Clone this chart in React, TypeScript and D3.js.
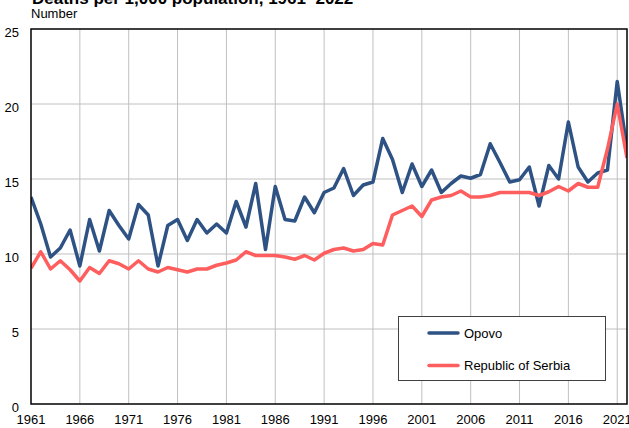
import React from 'react';
import * as d3 from 'd3';

const years: number[] = d3.range(1961, 2023);

// deaths per 1,000 population
const opovo: number[] = [
  13.8, 12.0, 9.8, 10.4, 11.6, 9.2, 12.3, 10.2, 12.9, 11.9,
  11.0, 13.3, 12.6, 9.2, 11.9, 12.3, 10.9, 12.3, 11.4, 12.0,
  11.4, 13.5, 11.8, 14.7, 10.3, 14.5, 12.3, 12.2, 13.8, 12.75,
  14.1, 14.4, 15.7, 13.9, 14.6, 14.8, 17.7, 16.3, 14.1, 16.0,
  14.5, 15.6, 14.1, 14.7, 15.2, 15.05, 15.3, 17.35, 16.1, 14.8,
  14.95, 15.8, 13.2, 15.9, 15.0, 18.8, 15.8, 14.8, 15.4, 15.6,
  21.5, 17.0,
];

const serbia: number[] = [
  9.05, 10.15, 9.0, 9.55, 8.95, 8.2, 9.1, 8.7, 9.55, 9.35,
  9.0, 9.55, 9.0, 8.8, 9.1, 8.95, 8.8, 9.0, 9.0, 9.25,
  9.4, 9.6, 10.15, 9.9, 9.9, 9.9, 9.8, 9.65, 9.9, 9.6,
  10.05, 10.3, 10.4, 10.2, 10.3, 10.7, 10.6, 12.6, 12.9, 13.2,
  12.5, 13.6, 13.8, 13.9, 14.2, 13.8, 13.8, 13.9, 14.1, 14.1,
  14.1, 14.1, 13.9, 14.15, 14.5, 14.2, 14.7, 14.45, 14.45, 17.0,
  20.0, 16.4,
];

const xTicks: number[] = [1961, 1966, 1971, 1976, 1981, 1986, 1991, 1996, 2001, 2006, 2011, 2016, 2021];
const yTicks: number[] = [0, 5, 10, 15, 20, 25];

const series = [
  { name: 'Opovo', values: opovo, color: '#2e5283' },
  { name: 'Republic of Serbia', values: serbia, color: '#ff5e5e' },
];

const font = '"Liberation Sans", Arial, sans-serif';

export default function App() {
  const W = 629;
  const H = 428;
  const left = 31;
  const right = 627;
  const top = 29;
  const bottom = 404;

  const x = d3.scaleLinear().domain([1961, 2022]).range([left, right]);
  const y = d3.scaleLinear().domain([0, 25]).range([bottom, top]);

  const line = d3
    .line<number>()
    .x((_, i) => x(years[i]))
    .y((d) => y(d));

  return (
    <svg
      width={W}
      height={H}
      style={{ position: 'absolute', left: 0, top: 0, background: '#fff' }}
      fontFamily={font}
    >
      <defs>
        <clipPath id="plot-clip">
          <rect x={left} y={0} width={right - left} height={bottom} />
        </clipPath>
      </defs>

      {/* title, cut off at the top like the source */}
      <text x={32} y={4} fontSize={17} fontWeight="bold" fill="#000">
        Deaths per 1,000 population, 1961–2022
      </text>
      <text x={31} y={18} fontSize={13} fill="#000">
        Number
      </text>

      {/* grid */}
      {yTicks.filter((t) => t > 0 && t < 25).map((t) => (
        <line key={'gy' + t} x1={left} x2={right} y1={y(t)} y2={y(t)} stroke="#c0c0c0" strokeWidth={1} />
      ))}
      {xTicks.filter((t) => t > 1961).map((t) => (
        <line key={'gx' + t} x1={x(t)} x2={x(t)} y1={top} y2={bottom} stroke="#c0c0c0" strokeWidth={1} />
      ))}

      {/* series */}
      <g clipPath="url(#plot-clip)">
        {series.map((s) => (
          <path
            key={s.name}
            d={line(s.values) || ''}
            fill="none"
            stroke={s.color}
            strokeWidth={3.5}
            strokeLinejoin="round"
          />
        ))}
      </g>

      {/* frame */}
      <rect x={left} y={top} width={right - left} height={bottom - top} fill="none" stroke="#000" strokeWidth={1.5} />

      {/* y tick labels */}
      {yTicks.map((t) => (
        <text key={'ty' + t} x={19} y={y(t) + 8} fontSize={13} textAnchor="end" fill="#000">
          {t}
        </text>
      ))}
      {/* x tick labels */}
      {xTicks.map((t) => (
        <text key={'tx' + t} x={x(t)} y={424} fontSize={13} textAnchor="middle" fill="#000">
          {t}
        </text>
      ))}

      {/* legend */}
      <g>
        <rect x={398.5} y={316.5} width={207} height={64} fill="#fff" stroke="#404040" strokeWidth={1} />
        {series.map((s, i) => (
          <g key={'lg' + s.name} transform={`translate(429, ${333 + i * 32.5})`}>
            <line x1={0} x2={29} y1={0} y2={0} stroke={s.color} strokeWidth={3.5} strokeLinecap="round" />
            <text x={35} y={4.5} fontSize={13} fill="#000">
              {s.name}
            </text>
          </g>
        ))}
      </g>
    </svg>
  );
}
